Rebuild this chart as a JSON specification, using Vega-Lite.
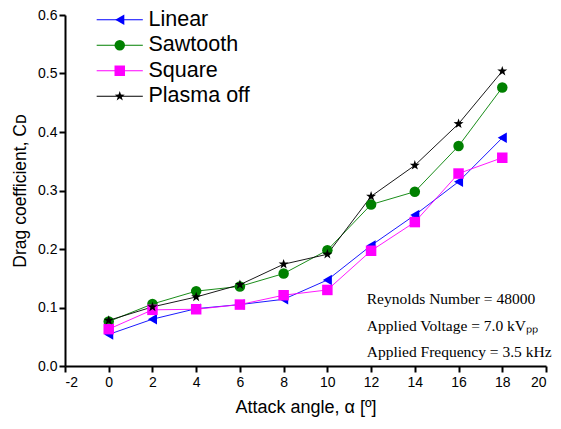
{
  "$schema": "https://vega.github.io/schema/vega-lite/v6.json",
  "width": 481,
  "height": 351,
  "autosize": {"type": "none"},
  "padding": {"left": 65, "top": 15, "right": 15, "bottom": 63},
  "background": "white",
  "config": {
    "view": {"stroke": null},
    "font": "Liberation Sans",
    "axis": {
      "grid": false,
      "domainColor": "black",
      "domainWidth": 2,
      "tickColor": "black",
      "tickWidth": 2,
      "labelColor": "black",
      "labelFont": "Liberation Sans",
      "labelFontSize": 14,
      "titleColor": "black",
      "titleFont": "Liberation Sans",
      "titleFontWeight": "normal"
    }
  },
  "datasets": {
    "cd": [
      {"series": "Linear", "angle": 0, "cd": 0.054},
      {"series": "Linear", "angle": 2, "cd": 0.080},
      {"series": "Linear", "angle": 4, "cd": 0.098},
      {"series": "Linear", "angle": 6, "cd": 0.105},
      {"series": "Linear", "angle": 8, "cd": 0.114},
      {"series": "Linear", "angle": 10, "cd": 0.147},
      {"series": "Linear", "angle": 12, "cd": 0.206},
      {"series": "Linear", "angle": 14, "cd": 0.258},
      {"series": "Linear", "angle": 16, "cd": 0.315},
      {"series": "Linear", "angle": 18, "cd": 0.390},
      {"series": "Sawtooth", "angle": 0, "cd": 0.076},
      {"series": "Sawtooth", "angle": 2, "cd": 0.106},
      {"series": "Sawtooth", "angle": 4, "cd": 0.128},
      {"series": "Sawtooth", "angle": 6, "cd": 0.136},
      {"series": "Sawtooth", "angle": 8, "cd": 0.158},
      {"series": "Sawtooth", "angle": 10, "cd": 0.198},
      {"series": "Sawtooth", "angle": 12, "cd": 0.276},
      {"series": "Sawtooth", "angle": 14, "cd": 0.298},
      {"series": "Sawtooth", "angle": 16, "cd": 0.376},
      {"series": "Sawtooth", "angle": 18, "cd": 0.476},
      {"series": "Square", "angle": 0, "cd": 0.063},
      {"series": "Square", "angle": 2, "cd": 0.096},
      {"series": "Square", "angle": 4, "cd": 0.097},
      {"series": "Square", "angle": 6, "cd": 0.105},
      {"series": "Square", "angle": 8, "cd": 0.121},
      {"series": "Square", "angle": 10, "cd": 0.130},
      {"series": "Square", "angle": 12, "cd": 0.197},
      {"series": "Square", "angle": 14, "cd": 0.246},
      {"series": "Square", "angle": 16, "cd": 0.329},
      {"series": "Square", "angle": 18, "cd": 0.356},
      {"series": "Plasma off", "angle": 0, "cd": 0.078},
      {"series": "Plasma off", "angle": 2, "cd": 0.101},
      {"series": "Plasma off", "angle": 4, "cd": 0.118},
      {"series": "Plasma off", "angle": 6, "cd": 0.139},
      {"series": "Plasma off", "angle": 8, "cd": 0.174},
      {"series": "Plasma off", "angle": 10, "cd": 0.191},
      {"series": "Plasma off", "angle": 12, "cd": 0.290},
      {"series": "Plasma off", "angle": 14, "cd": 0.343},
      {"series": "Plasma off", "angle": 16, "cd": 0.414},
      {"series": "Plasma off", "angle": 18, "cd": 0.504}
    ]
  },
  "layer": [
    {
      "data": {"name": "cd"},
      "mark": {"type": "line", "strokeWidth": 0.9},
      "encoding": {
        "x": {
          "field": "angle",
          "type": "quantitative",
          "scale": {"domain": [-2, 20], "nice": false, "zero": false},
          "axis": {
            "title": "Attack angle, α [º]",
            "titleFontSize": 18,
            "values": [-2, -1, 0, 1, 2, 3, 4, 5, 6, 7, 8, 9, 10, 11, 12, 13, 14, 15, 16, 17, 18, 19, 20],
            "labelExpr": "datum.value % 2 === 0 ? replace(datum.label, '−', '-') : ''",
            "tickSize": {"condition": {"test": "datum.value % 2 === 0", "value": 6}, "value": 3},
            "labelPadding": 3,
            "titlePadding": 9
          }
        },
        "y": {
          "field": "cd",
          "type": "quantitative",
          "scale": {"domain": [0, 0.6], "nice": false},
          "axis": {
            "title": "Drag coefficient, Cᴅ",
            "titleFontSize": 17.5,
            "values": [0, 0.05, 0.1, 0.15, 0.2, 0.25, 0.3, 0.35, 0.4, 0.45, 0.5, 0.55, 0.6],
            "format": ".1f",
            "labelExpr": "round(datum.value * 100) % 10 === 0 ? datum.label : ''",
            "tickSize": {"condition": {"test": "round(datum.value * 100) % 10 === 0", "value": 6}, "value": 3},
            "labelPadding": 2,
            "titlePadding": 8
          }
        },
        "color": {
          "field": "series",
          "type": "nominal",
          "scale": {"domain": ["Linear", "Sawtooth", "Square", "Plasma off"], "range": ["#0000ff", "#008000", "#ff00ff", "#000000"]},
          "legend": {
            "orient": "none", "legendX": 44, "legendY": -6, "title": null,
            "symbolType": "M-4.4,0L4.4,0", "symbolSize": 110, "symbolStrokeWidth": 1,
            "labelOpacity": 0, "labelFontSize": 21.5, "rowPadding": 2.5, "padding": 0, "labelOffset": 18
          }
        }
      }
    },
    {
      "data": {"name": "cd"},
      "mark": {"type": "point", "filled": true, "size": 110, "opacity": 1},
      "encoding": {
        "x": {"field": "angle", "type": "quantitative"},
        "y": {"field": "cd", "type": "quantitative"},
        "color": {
          "field": "series",
          "type": "nominal",
          "scale": {"domain": ["Linear", "Sawtooth", "Square", "Plasma off"], "range": ["#0000ff", "#008000", "#ff00ff", "#000000"]},
          "legend": {
            "orient": "none", "legendX": 44, "legendY": -6, "title": null,
            "symbolSize": 110, "symbolStrokeWidth": 1, "labelFontSize": 21.5, "labelColor": "black", "rowPadding": 2.5, "padding": 0, "labelOffset": 18
          }
        },
        "shape": {
          "field": "series",
          "type": "nominal",
          "scale": {"domain": ["Linear", "Sawtooth", "Square", "Plasma off"], "range": ["triangle-left", "circle", "square", "M0,-1L0.235,-0.324L0.951,-0.309L0.380,0.124L0.588,0.809L0,0.4L-0.588,0.809L-0.380,0.124L-0.951,-0.309L-0.235,-0.324Z"]},
          "legend": {
            "orient": "none", "legendX": 44, "legendY": -6, "title": null,
            "symbolSize": 110, "symbolStrokeWidth": 1, "labelFontSize": 21.5, "labelColor": "black", "rowPadding": 2.5, "padding": 0, "labelOffset": 18
          }
        }
      }
    },
    {
      "data": {"values": [{}]},
      "mark": {"type": "text", "text": "Reynolds Number = 48000", "align": "left", "baseline": "middle", "font": "Liberation Serif", "fontSize": 15.5, "color": "black"},
      "encoding": {"x": {"datum": 11.8}, "y": {"datum": 0.114}}
    },
    {
      "data": {"values": [{}]},
      "mark": {"type": "text", "text": "Applied Voltage = 7.0 kVₚₚ", "align": "left", "baseline": "middle", "font": "Liberation Serif", "fontSize": 15.5, "color": "black"},
      "encoding": {"x": {"datum": 11.8}, "y": {"datum": 0.069}}
    },
    {
      "data": {"values": [{}]},
      "mark": {"type": "text", "text": "Applied Frequency = 3.5 kHz", "align": "left", "baseline": "middle", "font": "Liberation Serif", "fontSize": 15.5, "color": "black"},
      "encoding": {"x": {"datum": 11.8}, "y": {"datum": 0.024}}
    }
  ],
  "resolve": {"legend": {"color": "independent", "shape": "independent"}}
}
